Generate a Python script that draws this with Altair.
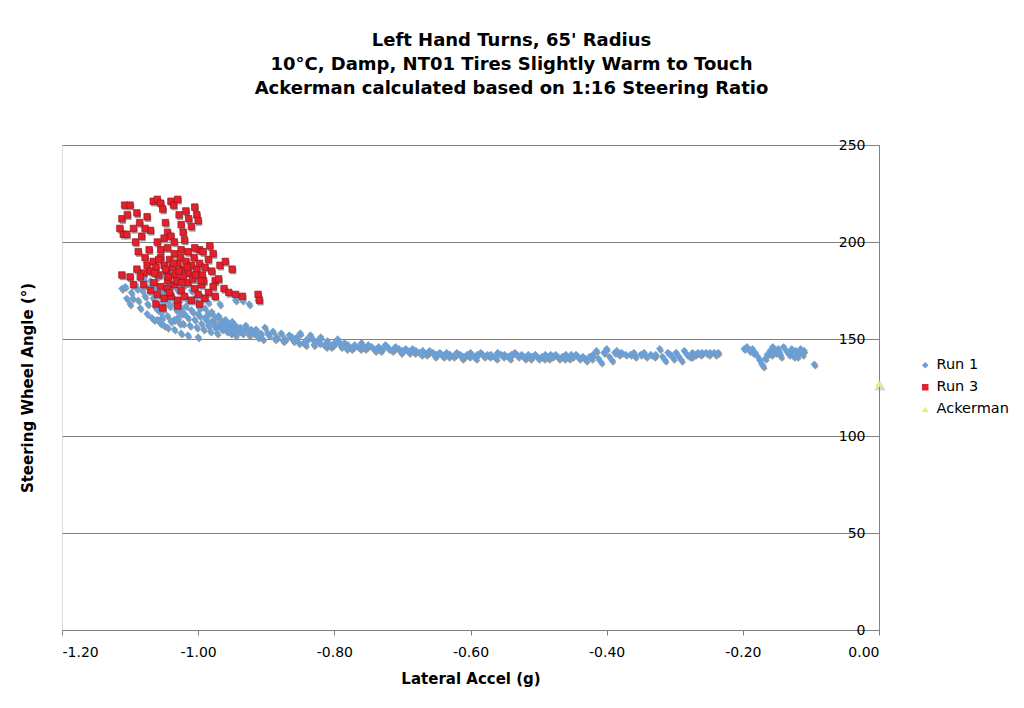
import altair as alt
import pandas as pd

# ---------------- data ----------------
run1_x = [
    -1.112, -1.107, -1.105, -1.098, -1.096, -1.092, -1.090, -1.088, -1.082, -1.078, -1.074, -1.070,
    -1.066, -1.062, -1.059, -1.058, -1.055, -1.053, -1.052, -1.048, -1.045, -1.042, -1.038, -1.035,
    -1.032, -1.028, -1.027, -1.025, -1.022, -1.018, -1.015, -1.012, -1.008, -1.005, -1.002, -0.998,
    -0.995, -0.992, -0.988, -0.985, -0.982, -0.978, -0.975, -0.972, -0.968, -0.965, -0.962, -0.958,
    -0.955, -0.952, -0.948, -0.945, -0.940, -0.935, -0.930, -0.925, -0.920,
    -1.060, -1.050, -1.040, -1.030, -1.020, -1.010, -1.000, -0.990, -0.980, -0.970, -0.960, -0.950,
    -1.065, -1.055, -1.045, -1.035, -1.025, -1.015, -1.000, -0.968, -0.945, -0.935, -0.912, -0.925,
    -1.020, -0.995, -0.985,
    -1.100, -1.085, -1.075, -1.068, -1.060, -1.050, -1.040, -1.030, -1.020, -1.010, -1.000, -0.990,
    -0.980, -0.970, -0.960, -0.950, -1.045, -1.035, -1.025, -1.015, -1.005, -1.070, -1.080, -1.060,
    -1.050, -1.040, -1.030, -1.010, -0.998, -0.985, -0.975, -0.965, -0.955, -0.945, -0.938, -0.930,
    -0.922, -0.918,
    -0.915, -0.908, -0.902, -0.896, -0.890, -0.884, -0.878, -0.872, -0.866, -0.860, -0.855, -0.850,
    -0.845, -0.840, -0.835, -0.830, -0.825, -0.820, -0.815, -0.810, -0.805, -0.800, -0.795, -0.790,
    -0.785, -0.780, -0.775, -0.770, -0.765, -0.760, -0.755, -0.750, -0.745, -0.740, -0.735, -0.730,
    -0.725, -0.720, -0.715, -0.710, -0.705, -0.700, -0.695, -0.690, -0.685, -0.680, -0.675, -0.670,
    -0.665, -0.660, -0.655, -0.650, -0.645, -0.640, -0.635, -0.630, -0.625, -0.620, -0.615, -0.610,
    -0.605, -0.600, -0.595, -0.590, -0.585, -0.580, -0.575, -0.570, -0.565, -0.560, -0.555, -0.550,
    -0.545, -0.540, -0.535, -0.530, -0.525, -0.520, -0.515, -0.510, -0.505, -0.500, -0.495, -0.490,
    -0.485, -0.480, -0.475, -0.470, -0.465, -0.460, -0.455, -0.450, -0.445, -0.440, -0.435, -0.430,
    -0.425, -0.420, -0.415, -0.412, -0.408, -0.404, -0.400, -0.396, -0.392, -0.388, -0.385, -0.382,
    -0.378, -0.372, -0.365, -0.358, -0.350, -0.342, -0.335, -0.328, -0.322, -0.318, -0.314, -0.310,
    -0.306, -0.302, -0.298, -0.294, -0.290, -0.286, -0.282, -0.278, -0.274, -0.270, -0.266, -0.260,
    -0.254, -0.248, -0.242, -0.236,
    -0.912, -0.905, -0.898, -0.887, -0.875, -0.862, -0.852, -0.842, -0.832, -0.822, -0.812, -0.802,
    -0.792, -0.782, -0.772, -0.762, -0.752, -0.742, -0.732, -0.722, -0.712, -0.702, -0.692, -0.682,
    -0.672, -0.662, -0.652, -0.642, -0.632, -0.622, -0.612, -0.602, -0.592, -0.582, -0.572, -0.562,
    -0.552, -0.542, -0.532, -0.522, -0.512, -0.502, -0.492, -0.482, -0.472, -0.462, -0.452, -0.442,
    -0.432, -0.422, -0.360, -0.345, -0.330, -0.275, -0.262, -0.250, -0.240,
    -0.198, -0.194, -0.190, -0.186, -0.182, -0.178, -0.175, -0.172, -0.170, -0.167, -0.164, -0.160,
    -0.156, -0.152, -0.148, -0.144, -0.140, -0.136, -0.132, -0.128, -0.125, -0.122, -0.118, -0.115,
    -0.112, -0.185, -0.158, -0.146, -0.130, -0.120, -0.110, -0.095,
]
run1_y = [
    176, 177, 171, 174, 171, 178, 176, 170, 175, 172, 168, 177,
    171, 166, 165, 173, 164, 161, 169, 176, 162, 167, 172, 160,
    165, 170, 158, 163, 158, 167, 161, 157, 164, 160, 156, 162,
    158, 155, 160, 157, 154, 159, 156, 153, 158, 155, 157, 154,
    156, 153, 155, 152, 154, 153, 155, 152, 154,
    176, 174, 178, 175, 172, 170, 168, 166, 164, 162, 160, 159,
    160, 158, 156, 155, 153, 152, 151, 168, 170, 170, 170, 168,
    178, 172, 169,
    168, 166, 163, 161, 160, 157, 159, 161, 163, 165, 163, 161,
    159, 157, 156, 157, 170, 168, 166, 170, 171, 180, 181, 182,
    183, 184, 182, 175, 166, 163, 161, 159, 158, 157, 156, 157,
    155, 153,
    155, 153, 156, 152, 154, 151, 153, 150, 152, 149, 151, 153,
    148, 150, 152, 147, 149, 151, 147, 149, 146, 148, 150, 146,
    148, 147, 145, 147, 146, 148, 145, 147, 146, 144, 146, 145,
    147, 145, 144, 146, 145, 144, 145, 143, 145, 144, 143, 144,
    142, 144, 143, 142, 143, 141, 143, 142, 141, 143, 142, 141,
    142, 143, 141, 142, 143, 141, 142, 142, 141, 143, 142, 142,
    141, 142, 143, 141, 142, 140, 142, 141, 142, 140, 141, 142,
    140, 141, 142, 140, 141, 142, 140, 141, 142, 140, 141, 139,
    141, 142, 144, 140, 138, 143, 145, 141, 139, 143, 144, 142,
    143, 142, 142, 141, 142, 141, 142, 142, 145, 141, 139, 143,
    142, 140, 143, 141, 139, 144, 142, 141, 143, 142, 143, 143,
    143, 143, 143, 143,
    151, 150, 153, 150, 149, 151, 148, 147, 150, 148, 146, 147,
    148, 145, 146, 145, 146, 145, 144, 146, 145, 143, 144, 143,
    142, 143, 141, 142, 141, 142, 140, 141, 140, 142, 141, 140,
    141, 140, 142, 141, 140, 141, 140, 142, 141, 140, 142, 141,
    140, 140, 143, 143, 141, 141, 142, 142, 142,
    145, 146, 144, 145, 143, 141, 139, 137, 136, 140, 142, 144,
    146, 143, 145, 141, 146, 144, 142, 145, 141, 144, 143, 145,
    142, 143, 142, 143, 143, 141, 144, 137,
]

run3_x = [
    -1.112, -1.108, -1.100, -1.104, -1.095, -1.110, -1.090, -1.083, -1.075, -1.070, -1.066, -1.060,
    -1.055, -1.052, -1.048, -1.045, -1.040, -1.036, -1.030, -1.028, -1.025, -1.022, -1.018, -1.014,
    -1.010, -1.005, -1.002, -1.000, -1.060, -1.050, -1.078, -1.086, -1.040, -1.035, -1.020, -0.998,
    -1.072, -1.105, -1.092, -1.115,
    -1.075, -1.070, -1.066, -1.062, -1.058, -1.055, -1.050, -1.046, -1.042, -1.038, -1.034, -1.030,
    -1.026, -1.022, -1.018, -1.014, -1.010, -1.006, -1.002, -0.998, -0.994, -0.990, -0.985, -0.980,
    -0.975, -0.968, -1.080, -1.085, -1.090, -1.100, -1.112, -1.095, -1.080, -1.065, -1.055, -1.045,
    -1.035, -1.025, -1.015, -1.005, -0.995, -0.985, -1.060, -1.050, -1.040, -1.030, -1.020, -1.010,
    -1.000, -0.990, -1.045, -1.035, -1.025, -1.015, -1.005, -0.993, -0.978, -0.970, -0.962, -0.955,
    -0.945, -0.935, -0.912, -0.910, -0.950, -0.983, -1.070, -1.078, -1.088, -1.055, -1.045, -0.960,
    -0.978, -0.992, -1.022, -1.008, -1.032, -1.042, -1.062, -1.052, -1.030, -0.998, -0.975,
    -1.064, -1.048, -1.036, -1.028, -1.016, -1.004, -0.996, -1.058, -1.044, -1.024,
]
run3_y = [
    212, 219, 219, 214, 207, 204, 215, 203, 213, 206, 221, 222,
    220, 217, 210, 205, 221, 219, 222, 214, 209, 205, 216, 212,
    208, 218, 214, 211, 200, 202, 207, 210, 203, 200, 201, 196,
    196, 204, 200, 207,
    188, 185, 190, 187, 183, 192, 188, 185, 191, 187, 183, 189,
    192, 186, 190, 184, 188, 192, 186, 189, 183, 187, 191, 185,
    180, 188, 184, 182, 186, 182, 183, 178, 178, 179, 177, 176,
    178, 175, 179, 176, 178, 174, 173, 171, 172, 170, 172, 170,
    173, 171, 180, 194, 196, 195, 197, 195, 194, 181, 176, 174,
    173, 172, 173, 170, 186, 198, 175, 192, 195, 196, 197, 190,
    177, 180, 182, 181, 180, 174, 168, 166, 167, 168, 172,
    184, 186, 189, 185, 187, 183, 180, 191, 182, 179,
]

ack_x = [0.0]
ack_y = [127]

series_names = ["Run 1", "Run 3", "Ackerman"]
series_colors = ["#6A9FD6", "#E3202B", "#F3E67E"]
series_strokes = ["#6A9FD6", "#9E141C", "#F3E67E"]
series_shapes = ["diamond", "square", "triangle-up"]
series_sizes = [44, 40, 130]
shadow_opacity = [0.9, 0.9, 0.35]

title_lines = [
    "Left Hand Turns, 65' Radius",
    "10°C, Damp, NT01 Tires Slightly Warm to Touch",
    "Ackerman calculated based on 1:16 Steering Ratio",
]
x_ticks = [-1.2, -1.0, -0.8, -0.6, -0.4, -0.2, 0.0]
y_ticks = [0, 50, 100, 150, 200, 250]

# ---------------- table ----------------
df = pd.concat([
    pd.DataFrame({"x": run1_x, "y": run1_y, "series": "Run 1"}),
    pd.DataFrame({"x": run3_x, "y": run3_y, "series": "Run 3"}),
    pd.DataFrame({"x": ack_x, "y": ack_y, "series": "Ackerman"}),
], ignore_index=True)

FONT = "DejaVu Sans"
W, H = 817, 485

xscale = alt.Scale(domain=[-1.2, 0], nice=False, zero=False)
yscale = alt.Scale(domain=[0, 250], nice=False)

base = alt.Chart(df)

x_enc = alt.X("x:Q", scale=xscale, title="Lateral Accel (g)",
              axis=alt.Axis(values=x_ticks, format=".2f", grid=False,
                            labelExpr="replace(format(datum.value, '.2f'), '\u2212', '-')",
                            tickColor="#808080", tickSize=5, domainColor="#808080",
                            labelFontSize=14, labelFont=FONT, labelColor="#000000",
                            labelPadding=10, titleFont=FONT, titleFontSize=15,
                            titleFontWeight="bold", titlePadding=12))
y_enc = alt.Y("y:Q", scale=yscale, title="Steering Wheel Angle (°)",
              axis=alt.Axis(orient="left", offset=-W, values=y_ticks, format="d",
                            grid=True, gridColor="#808080", gridWidth=1,
                            tickColor="#808080", tickSize=5, domainColor="#808080",
                            labelFontSize=14, labelFont=FONT, labelColor="#000000",
                            labelPadding=9, labelBaseline="middle",
                            titleFont=FONT, titleFontSize=15, titleFontWeight="bold",
                            titleX=-852, titleY=H / 2, titleAngle=270,
                            titleBaseline="middle", titleAlign="center"))

shadows = []
for name, shape, size, op in zip(series_names, series_shapes, series_sizes, shadow_opacity):
    shadows.append(
        base.transform_filter(alt.datum.series == name)
        .mark_point(shape=shape, size=size, filled=True, color="#8E8E8E",
                    opacity=op, xOffset=1, yOffset=2)
        .encode(x=alt.X("x:Q", scale=xscale), y=alt.Y("y:Q", scale=yscale))
    )

legend_spec = alt.Legend(orient="none", legendX=856, legendY=213,
                         labelFont=FONT, labelFontSize=14.5, labelColor="#000000",
                         symbolStrokeWidth=0, symbolSize=50, rowPadding=7,
                         labelOffset=4, padding=0)

main = base.mark_point(filled=True, opacity=1, strokeWidth=0.7).encode(
    x=x_enc,
    y=y_enc,
    color=alt.Color("series:N", title=None,
                    scale=alt.Scale(domain=series_names, range=series_colors),
                    legend=legend_spec),
    shape=alt.Shape("series:N", title=None,
                    scale=alt.Scale(domain=series_names, range=series_shapes),
                    legend=legend_spec),
    size=alt.Size("series:N", legend=None,
                  scale=alt.Scale(domain=series_names, range=series_sizes)),
    stroke=alt.Stroke("series:N", legend=None,
                      scale=alt.Scale(domain=series_names, range=series_strokes)),
)

chart = alt.layer(*shadows, main).properties(
    width=W, height=H,
    autosize=alt.AutoSizeParams(type="none"),
    padding={"left": 54, "top": 137, "right": 136, "bottom": 62},
    title=alt.TitleParams(text=title_lines, font=FONT, fontSize=18,
                          fontWeight="bold", color="#000000", anchor="middle",
                          lineHeight=24, dx=41, offset=40),
).configure_view(
    fill="#CCCCCC", stroke="#808080", strokeWidth=1
).configure(background="#FFFFFF")

chart.save("out.html", embed_options={"renderer": "svg", "actions": False})
